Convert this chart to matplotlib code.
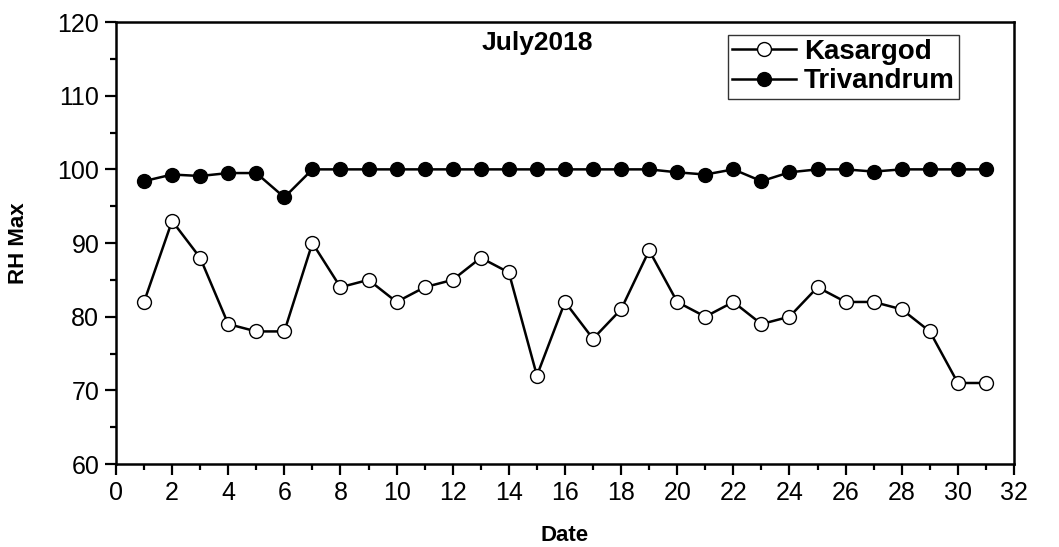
import matplotlib
matplotlib.use('Agg')
import matplotlib.pyplot as plt
from matplotlib.ticker import MultipleLocator

plt.rcParams['font.family'] = ['Liberation Sans', 'DejaVu Sans']

days = list(range(1, 32))
kasargod = [82, 93, 88, 79, 78, 78, 90, 84, 85, 82, 84, 85, 88, 86, 72, 82,
            77, 81, 89, 82, 80, 82, 79, 80, 84, 82, 82, 81, 78, 71, 71]
trivandrum = [98.4, 99.3, 99.1, 99.5, 99.5, 96.2, 100, 100, 100, 100, 100, 100,
              100, 100, 100, 100, 100, 100, 100, 99.6, 99.3, 100, 98.4, 99.6,
              100, 100, 99.7, 100, 100, 100, 100]

fig = plt.figure(figsize=(10.59, 5.47), dpi=100)
ax = fig.add_axes([0.1095, 0.1517, 0.848, 0.808])

ax.plot(days, kasargod, color='black', linewidth=1.8, marker='o', markersize=10,
        markerfacecolor='white', markeredgecolor='black', markeredgewidth=1.0,
        label='Kasargod')
ax.plot(days, trivandrum, color='black', linewidth=1.8, marker='o', markersize=10,
        markerfacecolor='black', markeredgecolor='black', label='Trivandrum')

ax.set_xlim(0, 32)
ax.set_ylim(60, 120)
ax.xaxis.set_major_locator(MultipleLocator(2))
ax.xaxis.set_minor_locator(MultipleLocator(1))
ax.yaxis.set_major_locator(MultipleLocator(10))
ax.yaxis.set_minor_locator(MultipleLocator(5))

ax.tick_params(axis='both', which='major', direction='out', length=8, width=1.6,
               labelsize=18, pad=4)
ax.tick_params(axis='both', which='minor', direction='out', length=4, width=1.6)
for s in ax.spines.values():
    s.set_linewidth(1.8)

ax.set_xlabel('Date', fontsize=16, fontweight='bold')
ax.set_ylabel('RH Max', fontsize=16, fontweight='bold')
ax.xaxis.set_label_coords(0.5, -0.138)
ax.yaxis.set_label_coords(-0.097, 0.5)

ax.text(15.0, 117.1, 'July2018', fontsize=19, fontweight='bold', ha='center', va='center')

leg = ax.legend(loc='upper right', bbox_to_anchor=(0.939, 0.971),
                prop={'weight': 'bold', 'size': 20}, frameon=True, fancybox=False,
                handlelength=2.3, handletextpad=0.3, borderpad=0.15, labelspacing=0.12,
                borderaxespad=0)
leg.get_frame().set_edgecolor('black')
leg.get_frame().set_linewidth(1.0)

fig.savefig('out.png', dpi=100)
